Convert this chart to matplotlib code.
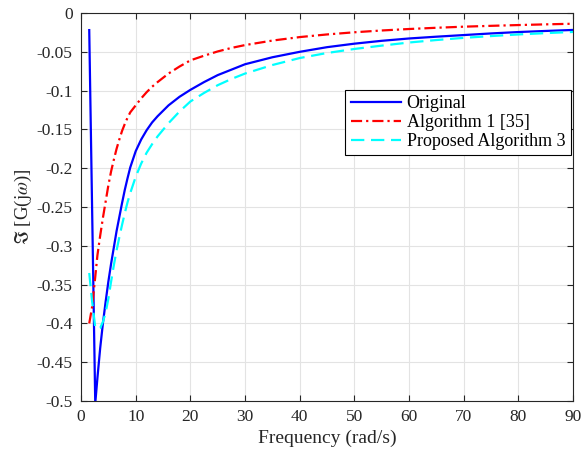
import numpy as np
import matplotlib.pyplot as plt

plt.rcParams['font.family'] = ['Liberation Serif', 'DejaVu Serif']
plt.rcParams['mathtext.fontset'] = 'stix'

# frequency grid (rad/s) and imaginary part of each model
freq = [1.5, 2, 2.6, 3, 3.5, 4, 4.5, 5, 5.5, 6, 6.5, 7, 7.5, 8, 8.5, 9, 10,
        11, 12, 13, 14, 16, 18, 20, 22.5, 25, 27.5, 30, 35, 40, 45, 50, 55,
        60, 65, 70, 75, 80, 85, 90]
im_original = [-0.022, -0.241, -0.503, -0.470, -0.432, -0.400, -0.372, -0.346,
               -0.323, -0.302, -0.281, -0.263, -0.245, -0.228, -0.213, -0.199,
               -0.178, -0.163, -0.151, -0.141, -0.133, -0.119, -0.108, -0.099,
               -0.089, -0.080, -0.073, -0.066, -0.057, -0.050, -0.044, -0.0395,
               -0.0358, -0.0328, -0.0305, -0.0284, -0.0263, -0.0245, -0.0231,
               -0.0218]
im_alg1 = [-0.400, -0.380, -0.340, -0.312, -0.287, -0.264, -0.243, -0.222,
           -0.204, -0.189, -0.175, -0.163, -0.152, -0.143, -0.135, -0.128,
           -0.119, -0.110, -0.102, -0.095, -0.089, -0.078, -0.069, -0.061,
           -0.055, -0.0495, -0.045, -0.0413, -0.0355, -0.031, -0.0276, -0.0248,
           -0.0225, -0.0206, -0.019, -0.0176, -0.0165, -0.0155, -0.0146,
           -0.0138]
im_alg3 = [-0.335, -0.370, -0.405, -0.407, -0.406, -0.398, -0.386, -0.368,
           -0.346, -0.325, -0.306, -0.289, -0.273, -0.258, -0.244, -0.232,
           -0.211, -0.194, -0.180, -0.169, -0.159, -0.142, -0.127, -0.114,
           -0.103, -0.093, -0.085, -0.078, -0.067, -0.058, -0.0515, -0.0463,
           -0.0420, -0.0380, -0.0348, -0.0320, -0.0297, -0.0276, -0.0259,
           -0.0244]

xticks = np.arange(0, 91, 10)
yticks = np.arange(-0.5, 0.001, 0.05)
ylabels = ['-0.5', '-0.45', '-0.4', '-0.35', '-0.3', '-0.25', '-0.2',
           '-0.15', '-0.1', '-0.05', '0']

fig = plt.figure(figsize=(5.83, 4.57), dpi=100)
ax = fig.add_axes([0.139, 0.1225, 0.844, 0.849])

ax.plot(freq, im_original, color='#0000ff', lw=1.6, label='Original')
ax.plot(freq, im_alg1, color='#ff0000', lw=1.6, ls=(0, (5, 1.8, 1, 1.8)),
        label='Algorithm 1 [35]')
ax.plot(freq, im_alg3, color='#00ffff', lw=1.6, ls=(0, (6, 3)),
        label='Proposed Algorithm 3')

ax.set_xlim(0, 90)
ax.set_ylim(-0.5, 0)
ax.set_xticks(xticks)
ax.set_yticks(yticks)
ax.set_yticklabels(ylabels)
ax.grid(True, color='#e3e3e3', lw=0.8)
ax.set_axisbelow(True)

dark = '#262626'
for s in ax.spines.values():
    s.set_color(dark)
    s.set_linewidth(0.8)
ax.tick_params(direction='in', top=True, right=True, length=4, width=0.8,
               colors=dark, labelsize=12.5, pad=6)
for lab in ax.get_xticklabels() + ax.get_yticklabels():
    lab.set_color(dark)

ax.set_xlabel('Frequency (rad/s)', fontsize=14, color=dark, labelpad=3)
ax.set_ylabel(r'$\Im$ [G(j$\omega$)]', fontsize=13.5, color=dark, labelpad=2)

leg = ax.legend(loc='upper right', bbox_to_anchor=(0.995, 0.8015),
                fontsize=13, fancybox=False, framealpha=1, edgecolor='black',
                handlelength=2.8, handletextpad=0.3, borderpad=0.3,
                labelspacing=0.1, borderaxespad=0)
leg.get_frame().set_linewidth(0.8)

fig.savefig('out.png', dpi=100)
